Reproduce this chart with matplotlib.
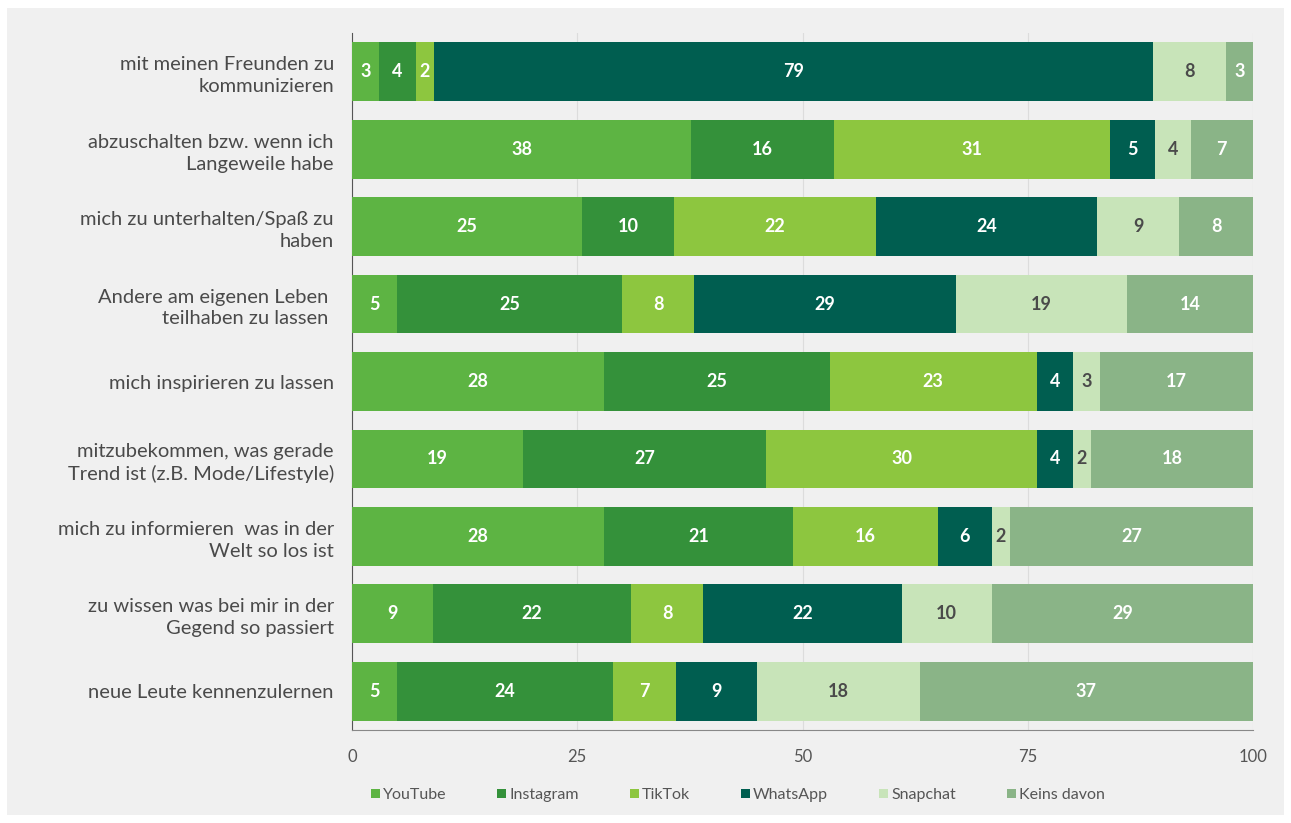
import numpy as np
import matplotlib.pyplot as plt
from matplotlib.patches import Patch, Rectangle

plt.rcParams['font.family'] = ['Lato', 'DejaVu Sans']

# Data (top to bottom as shown in the chart)
categories = [
    "mit meinen Freunden zu\nkommunizieren",
    "abzuschalten bzw. wenn ich\nLangeweile habe",
    "mich zu unterhalten/Spaß zu\nhaben",
    "Andere am eigenen Leben \nteilhaben zu lassen ",
    "mich inspirieren zu lassen",
    "mitzubekommen, was gerade\nTrend ist (z.B. Mode/Lifestyle)",
    "mich zu informieren  was in der\nWelt so los ist",
    "zu wissen was bei mir in der\nGegend so passiert",
    "neue Leute kennenzulernen",
]
series = ["YouTube", "Instagram", "TikTok", "WhatsApp", "Snapchat", "Keins davon"]
youtube = [3, 38, 25, 5, 28, 19, 28, 9, 5]
instagram = [4, 16, 10, 25, 25, 27, 21, 22, 24]
tiktok = [2, 31, 22, 8, 23, 30, 16, 8, 7]
whatsapp = [79, 5, 24, 29, 4, 4, 6, 22, 9]
snapchat = [8, 4, 9, 19, 3, 2, 2, 10, 18]
keins = [3, 7, 8, 14, 17, 18, 27, 29, 37]
xticks = [0, 25, 50, 75, 100]

colors = ["#5db443", "#34913a", "#8dc63f", "#005e50", "#c8e4b9", "#8ab487"]
label_colors = ["white", "white", "white", "white", "#4a4a4a", "white"]
bg = "#f0f0f0"

values = np.array([youtube, instagram, tiktok, whatsapp, snapchat, keins], dtype=float)
# bars are drawn as shares of the row total (rows add up to 98-101)
shares = values / values.sum(axis=0) * 100

fig = plt.figure(figsize=(12.91, 8.23), dpi=100, facecolor="white")
fig.patches.append(Rectangle((7 / 1291, 8 / 823), 1277 / 1291, 807 / 823,
                             transform=fig.transFigure, facecolor=bg,
                             edgecolor="none", zorder=-10))
ax = fig.add_axes([352 / 1291, 1 - 730 / 823, 901 / 1291, 697 / 823])
ax.set_facecolor(bg)

y = np.arange(len(categories))
left = np.zeros(len(categories))
for i, name in enumerate(series):
    ax.barh(y, shares[i], left=left, height=0.76, color=colors[i],
            label=name, zorder=3)
    for j in range(len(categories)):
        ax.text(left[j] + shares[i][j] / 2, y[j], f"{int(values[i][j])}",
                ha="center", va="center", color=label_colors[i],
                fontsize=13, fontweight="bold", zorder=4)
    left += shares[i]

ax.set_ylim(len(categories) - 0.5, -0.5)
ax.set_xlim(0, 100)
ax.set_yticks(y)
ax.set_yticklabels(categories, fontsize=14.5, color="#4a4a4a", ha="right",
                   linespacing=1.35)
ax.set_xticks(xticks)
ax.set_xticklabels([str(t) for t in xticks], fontsize=12, color="#555555")
ax.tick_params(axis="both", length=0)
ax.tick_params(axis="y", pad=13)
ax.tick_params(axis="x", pad=14)
ax.grid(axis="x", color="#dcdcdc", lw=0.8, zorder=0)
for s in ["top", "right"]:
    ax.spines[s].set_visible(False)
ax.spines["left"].set_color("#555555")
ax.spines["bottom"].set_color("#888888")

handles = [Patch(facecolor=c, edgecolor="none") for c in colors]
fig.legend(handles, series, loc="center", bbox_to_anchor=(738 / 1291, 1 - 795 / 823),
           ncol=6, frameon=False, fontsize=11.5, handlelength=0.55, handleheight=0.55,
           handletextpad=0.2, columnspacing=3.2, labelcolor="#555555")

fig.savefig("out.png", dpi=100, facecolor="white")
